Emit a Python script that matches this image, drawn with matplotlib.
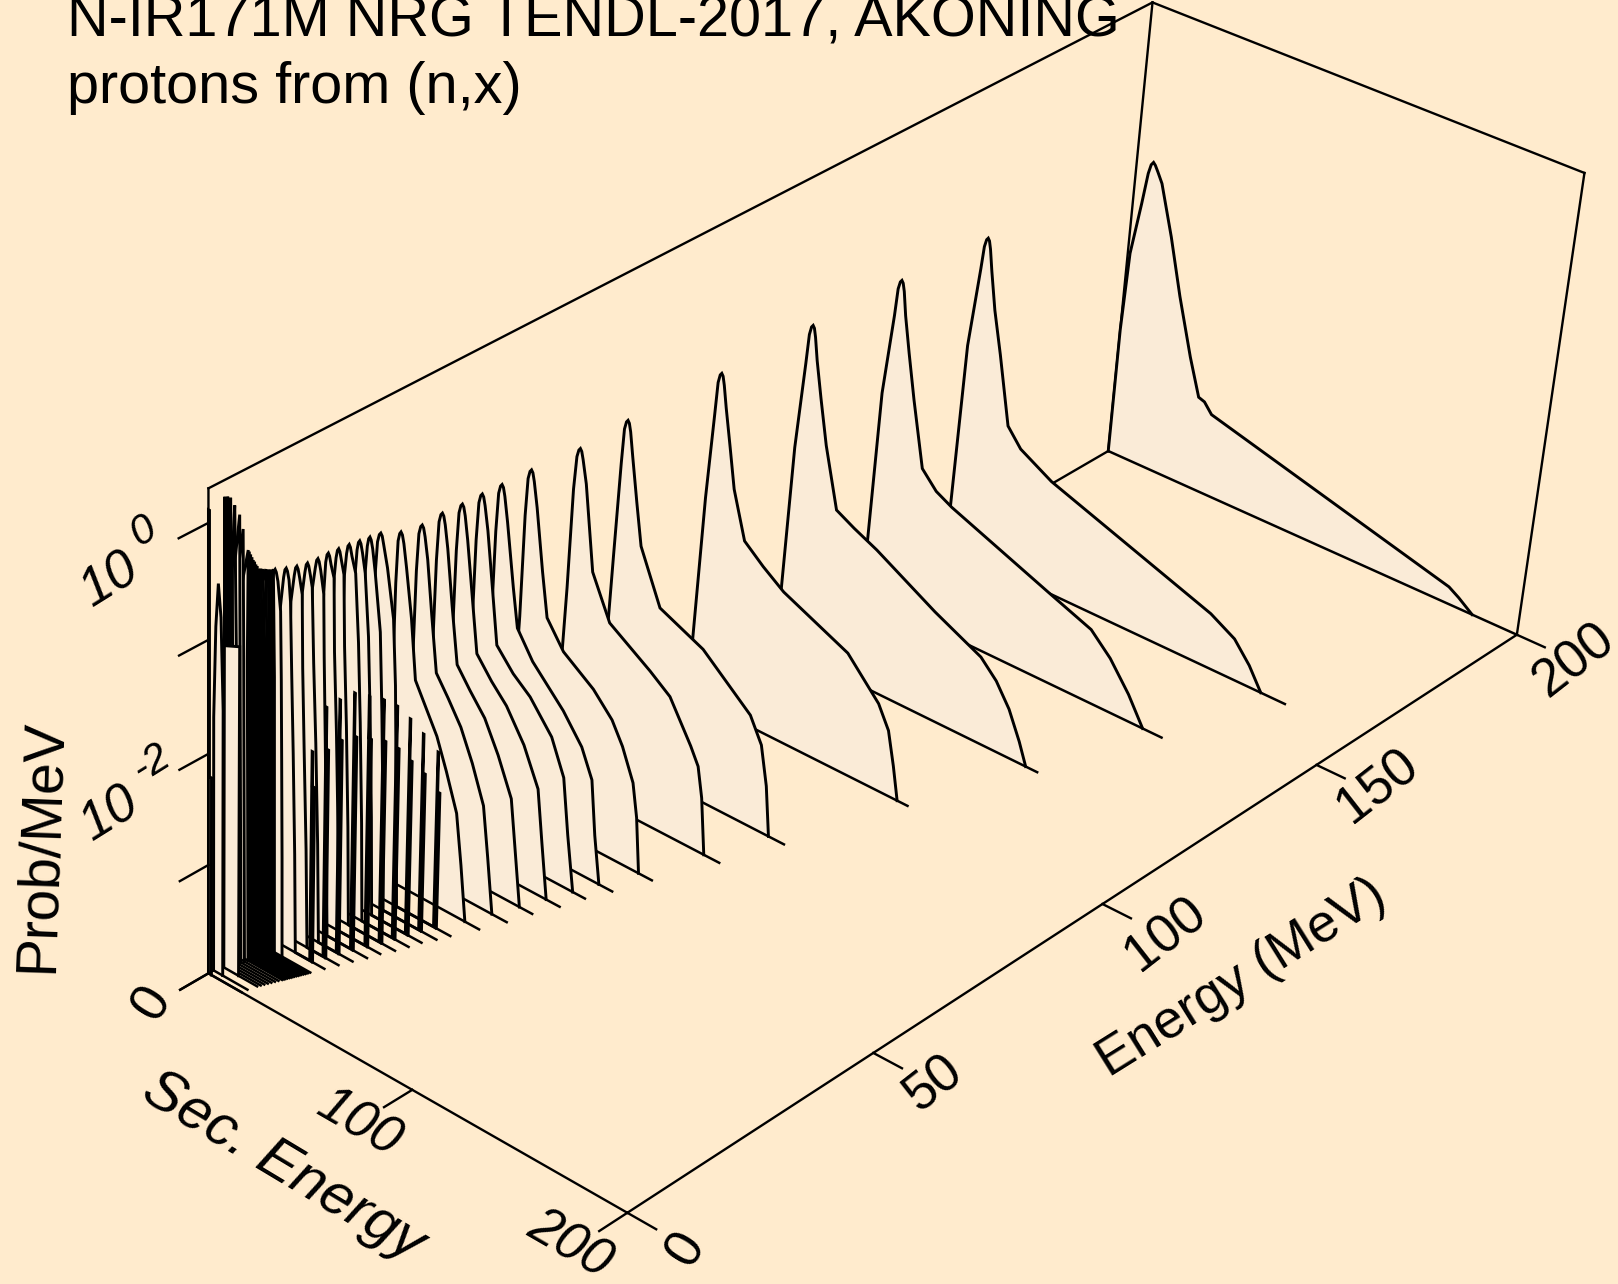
import matplotlib
matplotlib.use("Agg")
import matplotlib.pyplot as plt
import numpy as np

plt.rcParams['font.family'] = ['Liberation Sans', 'DejaVu Sans']

BG = '#FFEBCD'
FILL = '#FAEBD7'

# spectra: secondary energy (MeV), log10(prob/MeV)
sec_200 = [0, 0, 1.1, 4.3, 6, 7, 8, 9, 10.5, 13, 20, 27, 35, 41, 44, 48, 167, 172, 179]
logp_200 = [-4, -2.8, -2.05, -1.55, -1.25, -1.16, -1.13, -1.15, -1.2, -1.29, -1.74, -2.25, -2.77, -3.11, -3.13, -3.22, -3.84, -3.9, -4]
sec_160 = [0, 2.4, 5.7, 6.5, 7.3, 8, 8.7, 9.5, 11, 14, 18.4, 25, 32, 48, 128, 140, 148, 154.6]
logp_160 = [-4, -2.05, -1.3, -1.09, -1.02, -1, -1.02, -1.09, -1.28, -1.62, -2.0, -2.62, -2.78, -2.95, -3.49, -3.62, -3.8, -4]
sec_140 = [0, 2.5, 5.7, 6.5, 7.3, 8, 8.7, 9.5, 11, 14, 18, 24.5, 32, 40, 89.5, 110, 120, 130, 138]
logp_140 = [-4, -2.05, -1.3, -1.05, -0.98, -0.96, -0.98, -1.05, -1.26, -1.58, -1.98, -2.57, -2.72, -2.8, -3.17, -3.32, -3.5, -3.75, -4]
sec_120 = [0, 3, 5.7, 6.5, 7.3, 8, 8.7, 9.5, 11, 14, 18, 25, 34, 45.5, 75, 98, 106, 113, 119, 123]
logp_120 = [-4, -2.1, -1.3, -1.03, -0.955, -0.935, -0.955, -1.03, -1.23, -1.55, -1.95, -2.49, -2.58, -2.68, -2.99, -3.2, -3.35, -3.55, -3.8, -4]
sec_100 = [0, 3.5, 5.7, 6.5, 7.3, 8, 8.7, 9.5, 11, 14, 17, 23.4, 33, 43.5, 75.5, 91.5, 97, 100.5, 103.5]
logp_100 = [-4, -2.1, -1.32, -1.02, -0.945, -0.925, -0.945, -1.02, -1.21, -1.55, -1.9, -2.32, -2.47, -2.61, -2.88, -3.2, -3.4, -3.7, -4]
sec_80 = [0.5, 4, 5.7, 6.5, 7.3, 8, 8.7, 9.5, 11, 14, 17, 27.5, 49, 73, 79, 82.5, 85]
logp_80 = [-4, -2.15, -1.3, -0.985, -0.915, -0.895, -0.915, -0.985, -1.19, -1.58, -1.95, -2.42, -2.6, -2.98, -3.2, -3.55, -4]
sec_70 = [1, 4.5, 5.7, 6.7, 7.5, 8.2, 8.9, 9.7, 11.7, 16.5, 25.7, 46, 56, 67, 71, 73.5, 76]
logp_70 = [-4, -2.2, -1.3, -1.0, -0.935, -0.915, -0.935, -1.0, -1.2, -1.95, -2.33, -2.58, -2.72, -3.07, -3.22, -3.49, -4]
sec_60 = [1.5, 4.8, 5.7, 6.5, 7.3, 8, 8.7, 9.5, 11.3, 15, 18, 26.5, 41.5, 51, 56.5, 62.3, 64.8, 67]
logp_60 = [-4, -2.22, -1.3, -0.965, -0.895, -0.875, -0.895, -0.965, -1.18, -1.72, -2.11, -2.34, -2.54, -2.73, -2.92, -3.2, -3.5, -4]
sec_54 = [1.5, 4.8, 5.7, 6.5, 7.3, 8, 8.7, 9.5, 11.2, 15, 17.6, 25.5, 41, 50.5, 56, 58.5, 61.5]
logp_54 = [-4, -2.22, -1.3, -0.955, -0.885, -0.865, -0.885, -0.955, -1.17, -1.72, -2.06, -2.29, -2.59, -2.83, -3.08, -3.57, -4]
sec_50 = [1.5, 4.8, 5.7, 6.5, 7.3, 8, 8.7, 9.5, 11.2, 14.5, 17.2, 25.5, 34, 45, 51.5, 54.5, 58]
logp_50 = [-4, -2.2, -1.28, -0.945, -0.875, -0.855, -0.875, -0.945, -1.15, -1.68, -2.12, -2.3, -2.43, -2.69, -3.0, -3.5, -4]
sec_46 = [1.5, 4.8, 5.7, 6.5, 7.3, 8, 8.7, 9.5, 11, 14, 17, 24.5, 32, 41, 48.5, 51.3, 54.4]
logp_46 = [-4, -2.2, -1.28, -0.94, -0.87, -0.85, -0.87, -0.94, -1.14, -1.62, -2.1, -2.28, -2.43, -2.7, -3.03, -3.5, -4]
sec_42 = [1.5, 4.8, 5.7, 6.5, 7.3, 8, 8.7, 9.5, 11, 13.8, 17, 23.5, 31, 38, 45, 47.7, 50.7]
logp_42 = [-4, -2.2, -1.27, -0.925, -0.855, -0.835, -0.855, -0.925, -1.12, -1.6, -2.1, -2.27, -2.45, -2.72, -3.05, -3.5, -4]
sec_38 = [1.5, 4.8, 5.7, 6.5, 7.3, 8, 8.7, 9.5, 11, 13.6, 16.5, 22.5, 29, 35, 41, 43.8, 46.7]
logp_38 = [-4, -2.2, -1.27, -0.935, -0.865, -0.845, -0.865, -0.935, -1.12, -1.59, -2.08, -2.25, -2.45, -2.72, -3.05, -3.5, -4]
sec_34 = [1.5, 4.8, 5.5, 6.2, 6.9, 7.5, 8.2, 9, 10.5, 13.4, 16, 21.5, 27, 32, 37.5, 40.3, 43]
logp_34 = [-4, -2.2, -1.28, -0.905, -0.835, -0.815, -0.835, -0.905, -1.1, -1.52, -2.05, -2.25, -2.45, -2.72, -3.05, -3.5, -4]

# below 34 MeV the continuum stops early and a narrow line follows it
sec_30 = [1.5, 4, 5.2, 6, 6.8, 7.5, 8.2, 9, 11, 14.4, 16, 17.5, 18.8, 37.2, 37.2, 37.5, 37.5, 38.6, 38.6]
logp_30 = [-4, -2.0, -1.1, -0.82, -0.75, -0.73, -0.75, -0.82, -1.0, -1.42, -2.0, -3.0, -4, -4, -2.39, -2.39, -2.75, -2.75, -4]
sec_28 = [1.5, 4, 5.2, 6, 6.6, 7.2, 7.8, 8.6, 10, 13, 14.5, 16, 17, 34.7, 34.7, 35, 35, 36.1, 36.1]
logp_28 = [-4, -2.0, -1.05, -0.81, -0.74, -0.72, -0.74, -0.81, -1.0, -1.5, -2.2, -3.1, -4, -4, -2.2, -2.2, -2.55, -2.55, -4]
sec_26 = [1.5, 4, 5.3, 6, 6.6, 7.2, 7.8, 8.6, 10.1, 12.2, 13.7, 15.2, 16.2, 33, 33, 33.3, 33.3, 34.4, 34.4]
logp_26 = [-4, -2.0, -1.0, -0.795, -0.725, -0.705, -0.725, -0.795, -0.96, -1.5, -2.2, -3.1, -4, -4, -2.03, -2.03, -2.4, -2.4, -4]
sec_24 = [1.5, 4, 5, 5.9, 6.5, 7.1, 7.7, 8.5, 10.4, 12.3, 13.8, 15.3, 16.3, 31.4, 31.4, 31.7, 31.7, 32.8, 32.8]
logp_24 = [-4, -2.0, -0.98, -0.78, -0.71, -0.69, -0.71, -0.78, -0.91, -1.5, -2.2, -3.1, -4, -4, -1.88, -1.88, -2.25, -2.25, -4]
sec_22 = [1.5, 3.8, 5, 5.8, 6.4, 7, 7.6, 8.4, 9.7, 10.5, 12, 13.5, 14.5, 29.8, 29.8, 30.1, 30.1, 31.2, 31.2]
logp_22 = [-4, -2.0, -0.95, -0.77, -0.7, -0.68, -0.7, -0.77, -0.88, -1.5, -2.2, -3.1, -4, -4, -1.79, -1.79, -2.15, -2.15, -4]
sec_20 = [1.5, 3.8, 5, 5.8, 6.4, 7, 7.6, 8.4, 9.9, 10.6, 12.1, 13.6, 14.6, 27.7, 27.7, 28, 28, 29.1, 29.1]
logp_20 = [-4, -2.0, -1.05, -0.76, -0.69, -0.67, -0.69, -0.76, -0.86, -1.5, -2.2, -3.1, -4, -4, -1.73, -1.73, -2.1, -2.1, -4]
sec_18 = [1.5, 3.6, 4.5, 5.8, 6.4, 7, 7.6, 8.4, 10, 10.6, 11.6, 12.8, 13.8, 25.5, 25.5, 25.8, 25.8, 26.9, 26.9]
logp_18 = [-4, -2.0, -0.95, -0.76, -0.69, -0.67, -0.69, -0.76, -0.95, -1.5, -2.2, -3.1, -4, -4, -1.67, -1.67, -2.05, -2.05, -4]
sec_16 = [1.5, 3.6, 4.5, 5.8, 6.4, 7, 7.6, 8.4, 9.4, 10.5, 12, 13.5, 14.5, 23.4, 23.4, 23.7, 23.7, 24.8, 24.8]
logp_16 = [-4, -2.0, -0.96, -0.75, -0.68, -0.66, -0.68, -0.75, -0.85, -1.5, -2.2, -3.1, -4, -4, -1.7, -1.7, -2.05, -2.05, -4]
sec_14 = [1.2, 3.4, 4.2, 5.7, 6.3, 6.9, 7.5, 8.3, 9.6, 10.2, 11.3, 12.8, 13.8, 21.8, 21.8, 22.1, 22.1, 23.2, 23.2]
logp_14 = [-4, -2.0, -0.97, -0.73, -0.66, -0.64, -0.66, -0.73, -0.86, -1.5, -2.2, -3.1, -4, -4, -1.73, -1.73, -2.1, -2.1, -4]
sec_12 = [1.2, 3.2, 4, 5.6, 6.2, 6.8, 7.4, 8.2, 9, 9.9, 11, 12.2, 13, 20.2, 20.2, 20.5, 20.5, 21.6, 21.6]
logp_12 = [-4, -2.0, -1.0, -0.7, -0.63, -0.61, -0.63, -0.7, -0.88, -1.5, -2.2, -3.1, -4, -4, -2.09, -2.09, -2.4, -2.4, -4]
sec_10 = [1, 3, 4, 5.3, 5.9, 6.5, 7.1, 7.9, 9.3, 9.9, 10.4, 11, 11.4]
logp_10 = [-4, -2.0, -1.05, -0.665, -0.595, -0.575, -0.595, -0.665, -0.91, -1.5, -2.2, -3.1, -4]

energies = [200, 160, 140, 120, 100, 80, 70, 60, 54, 50, 46, 42, 38, 34,
            30, 28, 26, 24, 22, 20, 18, 16, 14, 12, 10]
base_ends = [200, 166, 147, 128.5, 108.5, 92.5, 83.5, 73.5, 68, 64, 61, 57, 54, 50,
             45.5, 43.5, 41, 39.5, 37.7, 35.3, 33.7, 31.5, 29.5, 27.5, 25.5]
sec_all = [sec_200, sec_160, sec_140, sec_120, sec_100, sec_80, sec_70, sec_60, sec_54,
           sec_50, sec_46, sec_42, sec_38, sec_34, sec_30, sec_28, sec_26, sec_24,
           sec_22, sec_20, sec_18, sec_16, sec_14, sec_12, sec_10]
logp_all = [logp_200, logp_160, logp_140, logp_120, logp_100, logp_80, logp_70, logp_60, logp_54,
            logp_50, logp_46, logp_42, logp_38, logp_34, logp_30, logp_28, logp_26, logp_24,
            logp_22, logp_20, logp_18, logp_16, logp_14, logp_12, logp_10]

# the dense group under 10 MeV
low_energies = [9.75, 9.5, 9.25, 9, 8.75, 8.5, 8.25, 8, 7.75, 7.5, 7.25, 7, 6.75, 6.5, 6.25, 6,
                5.5, 5, 4.5, 4, 3.5, 3]
low_peak_sec = [6.3, 6.2, 6, 5.8, 5.2, 4.5, 4, 3.6, 3.6, 3.6, 3.6, 3.6, 3.6, 3.6, 3.6, 3.7,
                2.5, 2.1, 1, 0.3, 0.2, 0.1]
low_peak_logp = [-0.57, -0.57, -0.565, -0.56, -0.555, -0.555, -0.55, -0.55, -0.52, -0.5, -0.47, -0.45, -0.42, -0.39, -0.36, -0.34,
                 -0.16, -0.03, 0.05, 0.12, 0.14, 0.15]
low_knee_sec = [7.2, 7, 6.8, 6.5, 6.3, 6, 5.8, 5.5, 5.3, 5, 4.8, 4.5, 4.3, 4, 3.8, 3.5,
                3, 2.5, 2, 1.5, 1, 0.8]
low_knee_logp = [-1.5, -1.5, -1.5, -1.5, -1.5, -1.5, -1.5, -1.5, -1.5, -1.5, -1.45, -1.4, -1.4, -1.4, -1.35, -1.3,
                 -1.2, -1.2, -1.2, -1.2, -1.2, -1.2]
low_end_sec = [8.2, 8, 7.8, 7.5, 7.3, 7, 6.8, 6.5, 6.3, 6, 5.8, 5.5, 5.3, 5, 4.8, 4.5,
               4, 3.5, 3, 2.5, 2, 1.6]
low_base_ends = [25.2, 25, 24.8, 24.5, 24.2, 24, 23.8, 23.5, 23.2, 23, 22.8, 22.5, 22.2, 22, 21.8, 21.5,
                 21, 20.5, 20, 19.5, 19, 18.5]

# the three spectra right at the front
front_energies = [2.5, 1, 0]
front_sec = [[1.3, 1.3, 8.7, 8.7],
             [0, 0, 1, 2.2, 3.5, 4.6, 4.6],
             [0, 0, 0.5, 0.5, 1.5, 1.5]]
front_logp = [[-4, -1.1, -1.04, -4],
              [-4, -1.7, -0.9, -0.52, -0.8, -1.6, -4],
              [-4, 0.11, 0.11, -2.2, -2.2, -4]]
front_base_ends = [18, 17, 16.6]

logp_ticks = [-4, -3, -2, -1, 0]
sec_ticks = [0, 100, 200]
energy_ticks = [0, 50, 100, 150, 200]

order = [10]


def project(energy, sec, logp):
    """Perspective of the box, gives pixels in the 1568 wide picture."""
    u = np.asarray(energy, dtype=float) / 200
    v = np.asarray(sec, dtype=float) / 200
    z = (np.asarray(logp, dtype=float) + 4) / 4.3
    w = 1 + 0.139 * u - 0.05225 * v - 0.0535 * z
    x = (1021.3 * u + 374.2 * v + 202 - 10.8 * z) / w
    y = (-445.3 * u + 170.6 * v + 943 - 496.3 * z) / w
    return x, y


def box_line(ax, e0, s0, p0, e1, s1, p1, z=2):
    x, y = project([e0, e1], [s0, s1], [p0, p1])
    ax.plot(x, y, color='black', lw=1.7, solid_capstyle='projecting', zorder=z)


def spectrum(ax, energy, sec, logp, base_end):
    x, y = project(energy, sec, logp)
    xb, yb = project(energy, [0, base_end], [-4, -4])
    ax.plot(xb, yb, color='black', lw=1.8, zorder=order[0] + 1)
    xf, yf = project(energy, [sec[-1], sec[0]], [-4, -4])
    ax.fill(np.r_[x, xf], np.r_[y, yf], color=FILL, lw=0, zorder=order[0])
    ax.plot(x, y, color='black', lw=2.1, solid_joinstyle='miter', zorder=order[0] + 1)
    order[0] += 2


def main():
    fig = plt.figure(figsize=(16.18, 12.84), dpi=100, facecolor=BG)
    ax = fig.add_axes([0, 0, 1, 1])
    ax.set_xlim(0, 1568)
    ax.set_ylim(1244, 0)
    ax.axis('off')

    top = 0.29
    # back of the box
    box_line(ax, 0, 0, -4, 200, 0, -4)
    box_line(ax, 0, 0, -4, 0, 0, top)
    box_line(ax, 0, 0, top, 200, 0, top)
    box_line(ax, 200, 0, -4, 200, 0, top)
    box_line(ax, 200, 0, top, 200, 200, top)
    box_line(ax, 200, 200, top, 200, 200, -4)

    for e, s, p, b in zip(energies, sec_all, logp_all, base_ends):
        spectrum(ax, e, s, p, b)

    for i, e in enumerate(low_energies):
        s = [0, 0, low_peak_sec[i], low_knee_sec[i], low_end_sec[i]]
        p = [-4, low_peak_logp[i] - 0.4, low_peak_logp[i], low_knee_logp[i], -4]
        spectrum(ax, e, s, p, low_base_ends[i])

    for e, s, p, b in zip(front_energies, front_sec, front_logp, front_base_ends):
        spectrum(ax, e, s, p, b)

    # front edges
    front = order[0] + 1
    box_line(ax, 0, 0, -4, 0, 200, -4, front)
    box_line(ax, 0, 200, -4, 200, 200, -4, front)

    # ticks
    for p in logp_ticks:
        box_line(ax, 0, 0, p, -5.5, 0, p, front)
    for s in sec_ticks:
        box_line(ax, 0, s, -4, -5.5, s, -4, front)
    for e in energy_ticks:
        box_line(ax, e, 200, -4, e, 213, -4, front)

    txt = dict(color='black', ha='center', va='center', rotation_mode='anchor')
    ax.text(148, 972, '0', fontsize=38, rotation=58, **txt)
    ax.text(106, 789, '10', fontsize=38, rotation=32, style='italic', **txt)
    ax.text(147, 739, '-2', fontsize=30, rotation=32, style='italic', **txt)
    ax.text(106, 562, '10', fontsize=38, rotation=32, style='italic', **txt)
    ax.text(139, 515, '0', fontsize=30, rotation=32, style='italic', **txt)
    ax.text(348, 1088, '100', fontsize=38, rotation=-30, style='italic', **txt)
    ax.text(552, 1206, '200', fontsize=38, rotation=-30, style='italic', **txt)
    ax.text(665, 1210, '0', fontsize=38, rotation=58, **txt)
    ax.text(905, 1050, '50', fontsize=38, rotation=38, **txt)
    ax.text(1130, 905, '100', fontsize=38, rotation=38, **txt)
    ax.text(1335, 762, '150', fontsize=38, rotation=38, **txt)
    ax.text(1525, 640, '200', fontsize=38, rotation=38, **txt)

    ax.text(40, 820, 'Prob/MeV', fontsize=41, rotation=88, **txt)
    ax.text(275, 1130, 'Sec. Energy', fontsize=42, rotation=-31, style='italic', **txt)
    ax.text(1203, 948, 'Energy (MeV)', fontsize=38.5, rotation=32, **txt)

    ax.text(65, 35, 'N-IR171M NRG TENDL-2017, AKONING', fontsize=41.5, color='black', va='baseline')
    ax.text(65, 100, 'protons from (n,x)', fontsize=41.5, color='black', va='baseline')

    fig.savefig('out.png', dpi=100, facecolor=BG)


if __name__ == "__main__":
    main()
